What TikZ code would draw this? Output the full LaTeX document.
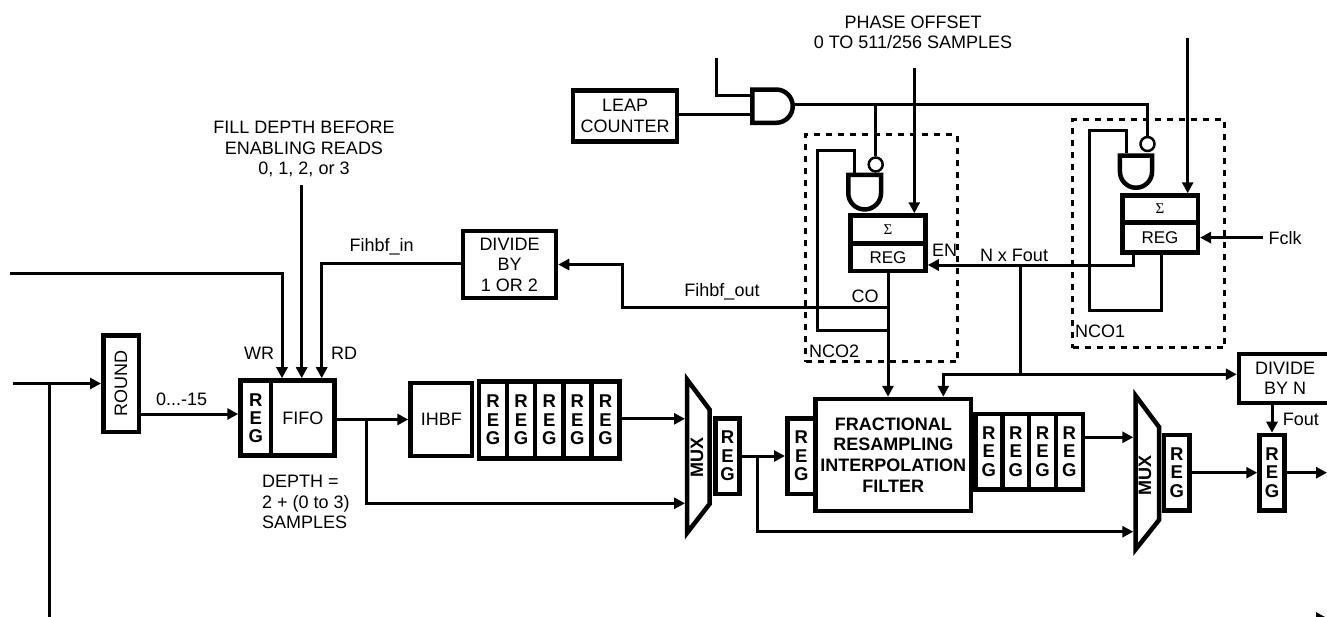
\documentclass[tikz,border=0pt]{standalone}
\usepackage{fontspec}
\usepackage{graphicx}
\setmainfont{Liberation Sans}
\newfontfamily\sigfont{Liberation Serif}
\usetikzlibrary{arrows.meta,calc}
\begin{document}
\begin{tikzpicture}[x=1pt,y=-1pt,
  font=\fontsize{18}{20.5}\selectfont,
  conn/.style={line width=3pt},
  arr/.style={line width=3pt,-{Triangle[length=11pt,width=11pt]}},
  blk/.style={draw,line width=4.5pt,inner sep=0pt,align=center},
  regbox/.style={blk,font=\fontsize{18.5}{18.3}\selectfont\bfseries},
  ncobox/.style={draw,line width=3pt,dash pattern=on 6pt off 6pt,inner sep=0pt},
  gate/.style={draw,line width=4.5pt,line join=miter},
  bubble/.style={draw,circle,line width=2.5pt,minimum size=14pt,inner sep=0pt},
  lbl/.style={inner sep=0pt},
  muxlbl/.style={inner sep=0pt,rotate=90,font=\fontsize{18}{18}\selectfont\bfseries},
  sig/.style={font=\sigfont\fontsize{15}{15}\selectfont},
]
\useasboundingbox (0,0) rectangle (1327,616);
\clip (0,0) rectangle (1327,616);

% NCO dashed boxes
\node[ncobox,minimum width=151.7pt,minimum height=227pt] (nco2) at (881.65,248.3) {};
\node[ncobox,minimum width=152pt,minimum height=228pt] (nco1) at (1148.5,233.8) {};
\node[lbl,anchor=west] (nco2lbl) at (809,351.7) {NCO2};
\node[lbl,anchor=west] (nco1lbl) at (1075,331.7) {NCO1};

% main chain blocks
\node[blk,minimum width=35.5pt,minimum height=96.5pt] (round) at (121,383.5) {\rotatebox{90}{ROUND}};
\node[regbox,minimum width=30.5pt,minimum height=75.25pt] (reg0) at (255.75,418.1) {R\\E\\G};
\node[blk,minimum width=63.7pt,minimum height=75.25pt] (fifo) at (302.85,418.1) {FIFO};
\node[blk,minimum width=61.5pt,minimum height=73pt] (ihbf) at (441.25,419.5) {IHBF};
\foreach \i/\x in {1/493.05,2/521.15,3/549.25,4/577.35,5/605.45}
  \node[regbox,minimum width=28.1pt,minimum height=77.2pt] (r\i) at (\x,419.85) {R\\E\\G};

\draw[gate] (687,379.5) -- (709.5,409.5) -- (709.5,504) -- (687,533) -- cycle;
\node[muxlbl] (mux1) at (697,457.5) {MUX};
\coordinate (m1a) at (685,418.8);
\coordinate (m1b) at (685,503.3);
\node[regbox,minimum width=24pt,minimum height=75.5pt] (mreg1) at (727.5,456) {R\\E\\G};
\node[regbox,minimum width=28.25pt,minimum height=75.5pt] (preg) at (801.4,456) {R\\E\\G};
\node[blk,minimum width=155.5pt,minimum height=112pt,font=\fontsize{18}{20.7}\selectfont\bfseries] (filt) at (893.25,455) {FRACTIONAL\\RESAMPLING\\INTERPOLATION\\FILTER};
\foreach \i/\x in {1/988.9,2/1015.7,3/1042.5,4/1069.35}
  \node[regbox,minimum width=26.8pt,minimum height=75.5pt] (p\i) at (\x,451.7) {R\\E\\G};

\draw[gate] (1135.5,395.5) -- (1159,427) -- (1159,520) -- (1135.5,549.5) -- cycle;
\node[muxlbl] (mux2) at (1145,475) {MUX};
\coordinate (m2a) at (1133.3,437.3);
\coordinate (m2b) at (1133.3,531.7);
\node[regbox,minimum width=25.5pt,minimum height=75.5pt] (mreg2) at (1176.75,472.7) {R\\E\\G};
\node[regbox,minimum width=25pt,minimum height=75.5pt] (freg) at (1272,472.7) {R\\E\\G};
\node[blk,minimum width=92pt,minimum height=48.75pt] (divn) at (1285,378.4) {DIVIDE\\BY N};
\node[blk,minimum width=93pt,minimum height=67.25pt] (div12) at (509.5,264.5) {DIVIDE\\BY\\1 OR 2};
\node[blk,minimum width=103.75pt,minimum height=51.25pt] (leap) at (625.1,116.1) {LEAP\\COUNTER};

% NCO accumulators
\node[blk,minimum width=75pt,minimum height=27.8pt,sig] (s2) at (888,229.4) {Σ};
\node[blk,minimum width=75pt,minimum height=27.7pt,font=\fontsize{17}{17}\selectfont] (g2) at (888,257.15) {REG};
\node[blk,minimum width=75.5pt,minimum height=27pt,sig] (s1) at (1160,209) {Σ};
\node[blk,minimum width=75.5pt,minimum height=30.25pt,font=\fontsize{17}{17}\selectfont] (g1) at (1160,237.6) {REG};

% gates
\draw[gate] (776.1,89.5) -- (752.3,89.5) -- (752.3,122.8) -- (776.1,122.8)
  .. controls (785.3,122.8) and (792.75,115.35) .. (792.75,106.15)
  .. controls (792.75,96.95) and (785.3,89.5) .. (776.1,89.5) -- cycle;
\draw[gate] (848.25,193.05) -- (848.25,174.95) -- (881.05,174.95) -- (881.05,193.05)
  .. controls (881.05,202.11) and (873.71,209.45) .. (864.65,209.45)
  .. controls (855.59,209.45) and (848.25,202.11) .. (848.25,193.05) -- cycle;
\draw[gate] (1119.95,171.7) -- (1119.95,155.55) -- (1152.05,155.55) -- (1152.05,171.7)
  .. controls (1152.05,180.56) and (1144.86,187.75) .. (1136,187.75)
  .. controls (1127.14,187.75) and (1119.95,180.56) .. (1119.95,171.7) -- cycle;
\node[bubble] (bub2) at (875.7,164.5) {};
\node[bubble] (bub1) at (1147.5,144) {};

% labels
\node[lbl,align=center] (phase) at (913,32.5) {PHASE OFFSET\\0 TO 511/256 SAMPLES};
\node[lbl,align=center] (fill) at (304,149.3) {FILL DEPTH BEFORE\\ENABLING READS\\0, 1, 2, or 3};
\node[lbl] (fin) at (381.7,246.7) {Fihbf\_in};
\node[lbl] (fout2) at (722,292) {Fihbf\_out};
\node[lbl] (colbl) at (865,296.7) {CO};
\node[lbl] (enlbl) at (944.7,250) {EN};
\node[lbl] (nxf) at (1014,255) {N x Fout};
\node[lbl,anchor=west] (fclklbl) at (1268.3,238) {Fclk};
\node[lbl] (wrlbl) at (259,353.3) {WR};
\node[lbl] (rdlbl) at (344,353.3) {RD};
\node[lbl] (lab015) at (181.7,399.3) {0...-15};
\node[lbl,align=left,anchor=west] (depth) at (262,502) {DEPTH =\\2 + (0 to 3)\\SAMPLES};
\node[lbl,anchor=west] (foutlbl) at (1282.7,419.3) {Fout};

% connectors: main path
\coordinate (in0) at (13,383.5);
\coordinate (tap) at (49,383.5);
\coordinate (bl) at (49,618);
\coordinate (br) at (1327,618);
\draw[arr] (in0) -- (round.west);
\draw[arr] (tap) -- (bl) -- (br);
\coordinate (r0in) at (238.25,414);
\draw[arr] (round.east |- r0in) -- (r0in);
\coordinate (wr0) at (10,273.3);
\coordinate (wrx) at (282,273.3);
\draw[arr] (wr0) -- (wrx) -- (wrx |- fifo.north);
\coordinate (fillx) at (301.7,185);
\draw[arr] (fillx) -- (fillx |- fifo.north);
\coordinate (rdx) at (321.7,263.5);
\draw[arr] (div12.west |- rdx) -- (rdx) -- (rdx |- fifo.north);
\draw[arr] (fifo.east |- ihbf.west) -- (ihbf.west);
\coordinate (brA) at (366.7,419.5);
\draw[arr] (brA) -- (brA |- m1b) -- (m1b);
\draw[arr] (r5.east |- m1a) -- (m1a);
\draw[arr] (mreg1.east) -- (preg.west);
\coordinate (brB) at (757.3,456);
\draw[arr] (brB) -- (brB |- m2b) -- (m2b);
\draw[arr] (p4.east |- m2a) -- (m2a);
\draw[arr] (mreg2.east) -- (freg.west |- mreg2.east);
\coordinate (out) at (1327,472.7);
\draw[arr] (freg.east |- out) -- (out);
\draw[arr] (freg.north |- divn.south) -- (freg.north);

% NCO wiring
\coordinate (andout) at (794.5,104.3);
\coordinate (t1) at (1147.5,104.3);
\draw[conn] (andout) -- (t1) -- (bub1.north);
\draw[conn] (bub2.north |- andout) -- (bub2.north);
\coordinate (andin1) at (750,95);
\coordinate (andin2) at (750,114.3);
\coordinate (tin) at (716.7,58.3);
\draw[conn] (tin) -- (tin |- andin1) -- (andin1);
\draw[conn] (leap.east |- andin2) -- (andin2);
\coordinate (ph) at (914.3,68.3);
\draw[arr] (ph) -- (ph |- s2.north);

\coordinate (f2a) at (888,330);
\coordinate (f2b) at (817.3,330);
\coordinate (f2c) at (817.3,150.7);
\coordinate (g2top) at (854,172.7);
\draw[conn] (f2a) -- (f2b) -- (f2c) -- (f2c -| g2top) -- (g2top);
\draw[arr] (g2.south) -- (g2.south |- filt.north);
\coordinate (co) at (888,307.3);
\coordinate (fo1) at (622,307.3);
\draw[arr] (co) -- (fo1) -- (fo1 |- div12.east) -- (div12.east);

\coordinate (n1) at (1133.3,265);
\draw[arr] (n1 |- g1.south) -- (n1) -- (g2.east |- n1);
\coordinate (n2) at (1020,265);
\coordinate (n3) at (1020,374.3);
\coordinate (n4) at (943.3,374.3);
\draw[conn] (n2) -- (n3);
\draw[arr] (n3) -- (n4) -- (n4 |- filt.north);
\draw[arr] (n3) -- (divn.west |- n3);

\coordinate (f1a) at (1161.7,310);
\coordinate (f1b) at (1089,310);
\coordinate (f1c) at (1089,130.7);
\coordinate (g1top) at (1126.7,153.3);
\draw[conn] (f1a |- g1.south) -- (f1a) -- (f1b) -- (f1c) -- (f1c -| g1top) -- (g1top);
\coordinate (topin) at (1187.7,38.3);
\draw[arr] (topin) -- (topin |- s1.north);
\coordinate (fclk) at (1263.3,237.6);
\draw[arr] (fclk) -- (g1.east);
\end{tikzpicture}
\end{document}
